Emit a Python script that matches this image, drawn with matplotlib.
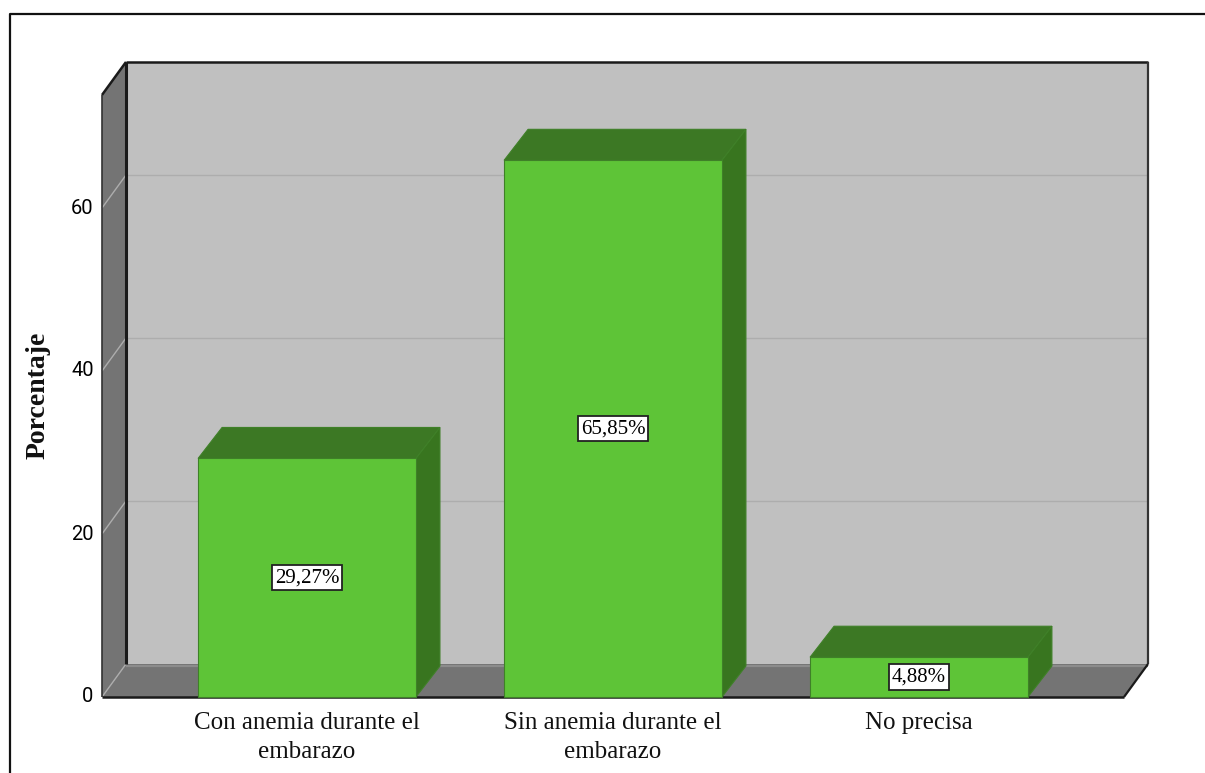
import matplotlib
matplotlib.use("Agg")
import matplotlib.pyplot as plt
from matplotlib.lines import Line2D
from matplotlib.patches import Polygon
from matplotlib.transforms import ScaledTranslation

# ── Data ──────────────────────────────────────────────────────────────────────
categories = ["Con anemia durante el\nembarazo",
              "Sin anemia durante el\nembarazo",
              "No precisa"]
values = [29.27, 65.85, 4.88]
value_labels = ["29,27%", "65,85%", "4,88%"]
y_ticks = [0, 20, 40, 60]

# ── Palette ───────────────────────────────────────────────────────────────────
WALL_BACK = "#c0c0c0"
WALL_DARK = "#747474"
FLOOR_EDGE = "#8c8c8c"
GRID = "#adadad"
EDGE = "#1a1a1a"
BAR_FRONT = "#5ec437"
BAR_TOP = "#3c7824"
BAR_SIDE = "#38751f"
BAR_EDGE = "#3f8028"

W, H = 1205, 773
fig = plt.figure(figsize=(W / 100, H / 100), dpi=100, facecolor="white")

# Front plane of the box, in pixels
left, right, base = 102, 1124, 697
px_per_unit = 8.15
y_max = 73.87
ax = fig.add_axes([left / W, 1 - base / H, (right - left) / W,
                   y_max * px_per_unit / H])
ax.set_xlim(-0.67, 2.67)
ax.set_ylim(0, y_max)
ax.patch.set_alpha(0)
for s in ax.spines.values():
    s.set_visible(False)

x0, x1 = ax.get_xlim()
# Oblique depth of the box and of the bars, in data units
dx, dy = 24 / 306, 33 / px_per_unit
bar_dy = 31 / px_per_unit
bar_w = 0.712


def poly(points, face, edge="none", lw=0.0, z=1):
    ax.add_patch(Polygon(points, closed=True, facecolor=face, edgecolor=edge,
                         linewidth=lw, clip_on=False, zorder=z,
                         joinstyle="miter"))


def seg(xs, ys, color=EDGE, lw=2.0, z=2):
    ax.add_line(Line2D(xs, ys, color=color, linewidth=lw, clip_on=False,
                       zorder=z, solid_capstyle="butt"))


# ── Walls and floor ───────────────────────────────────────────────────────────
poly([(x0 + dx, dy), (x1 + dx, dy), (x1 + dx, y_max + dy), (x0 + dx, y_max + dy)],
     WALL_BACK)
poly([(x0, 0), (x0 + dx, dy), (x0 + dx, y_max + dy), (x0, y_max)], WALL_DARK)
poly([(x0, 0), (x1, 0), (x1 + dx, dy), (x0 + dx, dy)], WALL_DARK)
seg([x0 + dx, x1 + dx], [dy - 0.2, dy - 0.2], color=FLOOR_EDGE, lw=1.6, z=1.2)

# Grid lines run across the left wall and then along the back wall
for t in y_ticks:
    seg([x0, x0 + dx], [t, t + dy], color=GRID, lw=1.0, z=1.5)
    if t > 0:
        seg([x0 + dx, x1 + dx], [t + dy, t + dy], color=GRID, lw=1.0, z=1.5)

# Box outline
seg([x0 + dx, x0 + dx], [dy, y_max + dy], lw=2.2)
seg([x0, x0 + dx], [y_max, y_max + dy], lw=1.8)
seg([x0, x0], [0, y_max], color="#333333", lw=1.2)
seg([x0 + dx, x1 + dx], [y_max + dy, y_max + dy], lw=1.8)
seg([x1 + dx, x1 + dx], [dy, y_max + dy], color="#333333", lw=1.6)
seg([x0, x1], [0, 0], lw=1.8)
seg([x1, x1 + dx], [0, dy], lw=1.6)

# ── Bars ──────────────────────────────────────────────────────────────────────
positions = range(len(values))
for i, v in zip(positions, values):
    xl, xr = i - bar_w / 2, i + bar_w / 2
    poly([(xl, v), (xr, v), (xr + dx, v + bar_dy), (xl + dx, v + bar_dy)],
         BAR_TOP, BAR_EDGE, 0.8, z=3)
    poly([(xr, 0), (xr + dx, bar_dy), (xr + dx, v + bar_dy), (xr, v)],
         BAR_SIDE, BAR_EDGE, 0.8, z=3)
ax.bar(positions, values, width=bar_w, color=BAR_FRONT, edgecolor=BAR_EDGE,
       linewidth=0.8, zorder=4, clip_on=False)

for i, v, lab in zip(positions, values, value_labels):
    ax.text(i, v / 2, lab, ha="center", va="center", family="Liberation Serif",
            fontsize=15, color="black", zorder=5,
            bbox=dict(boxstyle="square,pad=0.15", facecolor="white",
                      edgecolor="#222222", linewidth=1.3))

# ── Axes text ─────────────────────────────────────────────────────────────────
ax.set_yticks(y_ticks)
ax.set_yticklabels([str(t) for t in y_ticks],
                   family=["Liberation Sans Narrow", "Roboto"], fontsize=14.5,
                   color="black")
ax.set_xticks(list(positions))
ax.set_xticklabels(categories, family="Liberation Serif", fontsize=18,
                   color="#111111", linespacing=1.38)
ax.tick_params(axis="both", length=0)
ax.tick_params(axis="y", pad=6)
ax.tick_params(axis="x", pad=11)

# Lift the y tick labels slightly
nudge = ScaledTranslation(0, 2 / 100, fig.dpi_scale_trans)
for lab in ax.get_yticklabels():
    lab.set_transform(lab.get_transform() + nudge)

fig.text(38 / W, 1 - 395 / H, "Porcentaje", rotation=90, ha="center", va="center",
         family="Liberation Serif", fontweight="bold", fontsize=20, color="#111111")

# ── Outer frame (top and left only reach the canvas edge) ─────────────────────
fig.add_artist(Line2D([10 / W, 10 / W, 1], [0, 1 - 14 / H, 1 - 14 / H],
                      color="#111111", linewidth=1.6,
                      transform=fig.transFigure))

fig.savefig("out.png", dpi=100)
plt.close(fig)
